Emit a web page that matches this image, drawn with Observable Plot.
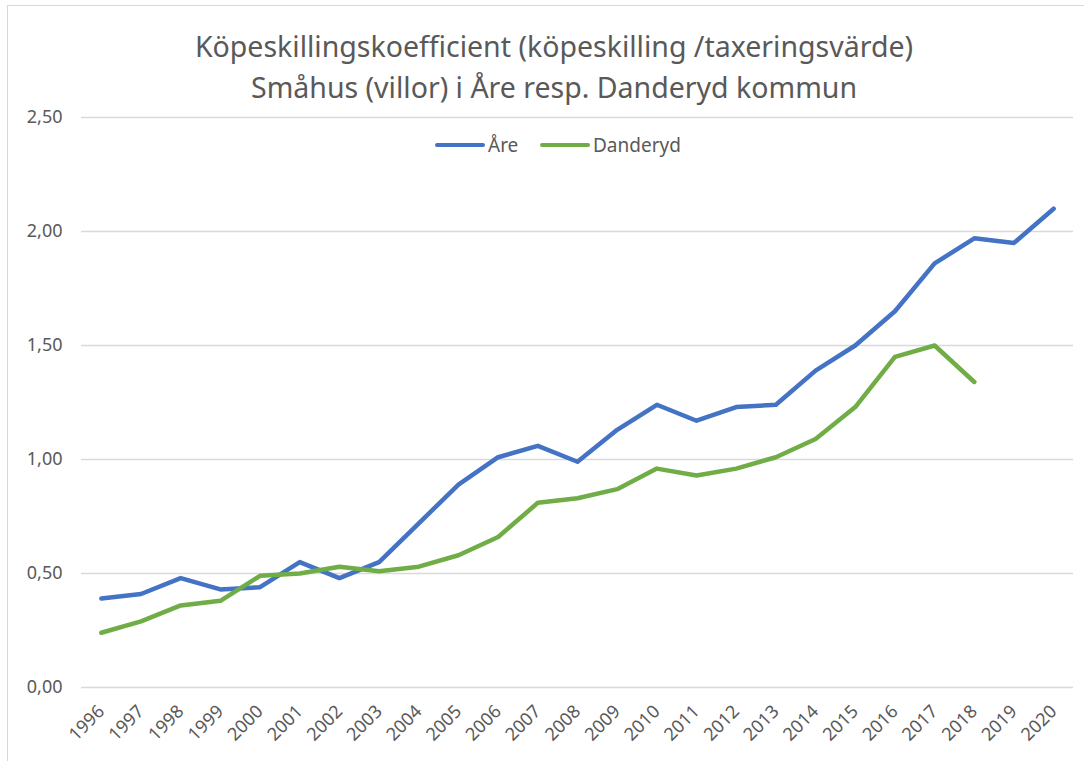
<!DOCTYPE html>
<html>
<head>
<meta charset="utf-8">
<script src="https://cdn.jsdelivr.net/npm/d3@7"></script>
<script src="https://cdn.jsdelivr.net/npm/@observablehq/plot@0.6"></script>
<style>
  html, body { margin: 0; padding: 0; background: #fff; }
  #wrap { position: relative; width: 1084px; height: 761px; overflow: hidden; font-family: "Noto Sans", sans-serif; color: #595959; }
  #frame { position: absolute; left: 7px; top: 5px; width: 1200px; height: 900px; border-left: 1.5px solid #d9d9d9; border-top: 1.5px solid #d9d9d9; }
  .title { position: absolute; left: 0; width: 1108px; text-align: center; font-size: 28.5px; line-height: 34px; white-space: nowrap; }
  #legend { position: absolute; top: 133px; left: 0; width: 1084px; height: 24px; font-size: 19px; }
  .item { position: absolute; top: 0; display: flex; align-items: center; height: 24px; }
  .sw { display: inline-block; width: 50px; height: 4.5px; border-radius: 2px; margin-right: 3px; }
  #chart { position: absolute; left: 0; top: 0; }
</style>
</head>
<body>
<div id="wrap">
  <div id="frame"></div>
  <div id="chart"></div>
  <div class="title" id="t1" style="top:29px">Köpeskillingskoefficient (köpeskilling /taxeringsvärde)</div>
  <div class="title" id="t2" style="top:70px">Småhus (villor) i Åre resp. Danderyd kommun</div>
  <div id="legend">
    <div class="item" style="left:435px"><span class="sw" style="background:#4472C4"></span>Åre</div>
    <div class="item" style="left:540px"><span class="sw" style="background:#70AD47"></span>Danderyd</div>
  </div>
</div>
<script>
const years = ["1996","1997","1998","1999","2000","2001","2002","2003","2004","2005","2006","2007","2008","2009","2010","2011","2012","2013","2014","2015","2016","2017","2018","2019","2020"];
const are = [0.39,0.41,0.48,0.43,0.44,0.55,0.48,0.55,0.72,0.89,1.01,1.06,0.99,1.13,1.24,1.17,1.23,1.24,1.39,1.50,1.65,1.86,1.97,1.95,2.10];
const danderyd = [0.24,0.29,0.36,0.38,0.49,0.50,0.53,0.51,0.53,0.58,0.66,0.81,0.83,0.87,0.96,0.93,0.96,1.01,1.09,1.23,1.45,1.50,1.34,null,null];
const yTicks = [0, 0.5, 1.0, 1.5, 2.0, 2.5];
const seriesNames = ["Åre", "Danderyd"];
const seriesColors = ["#4472C4", "#70AD47"];

const rows = [];
years.forEach((yr, i) => {
  rows.push({year: yr, value: are[i], series: seriesNames[0]});
  rows.push({year: yr, value: danderyd[i], series: seriesNames[1]});
});

const fmt = d => d.toFixed(2).replace(".", ",");

const plot = Plot.plot({
  width: 1084,
  height: 761,
  marginLeft: 81,
  marginRight: 11,
  marginTop: 117,
  marginBottom: 74,
  style: {fontFamily: "'Noto Sans', sans-serif", fontSize: "18px", color: "#595959", background: "transparent", overflow: "visible"},
  x: {type: "point", domain: years, padding: 0.5, round: false, label: null},
  y: {domain: [0, 2.5], ticks: yTicks, label: null},
  color: {domain: seriesNames, range: seriesColors},
  marks: [
    Plot.gridY(yTicks, {stroke: "#d9d9d9", strokeOpacity: 1, strokeWidth: 1.5}),
    Plot.axisY(yTicks, {tickSize: 0, tickPadding: 19, tickFormat: fmt, fill: "#595959", fontSize: 18, label: null}),
    Plot.axisX({tickSize: 0, tickPadding: 21, tickRotate: -45, fill: "#595959", fontSize: 18, label: null}),
    Plot.line(rows.filter(d => d.value != null), {x: "year", y: "value", z: "series", stroke: "series", strokeWidth: 4.5, strokeLinejoin: "round", strokeLinecap: "round"})
  ]
});
document.getElementById("chart").appendChild(plot);
</script>
</body>
</html>
